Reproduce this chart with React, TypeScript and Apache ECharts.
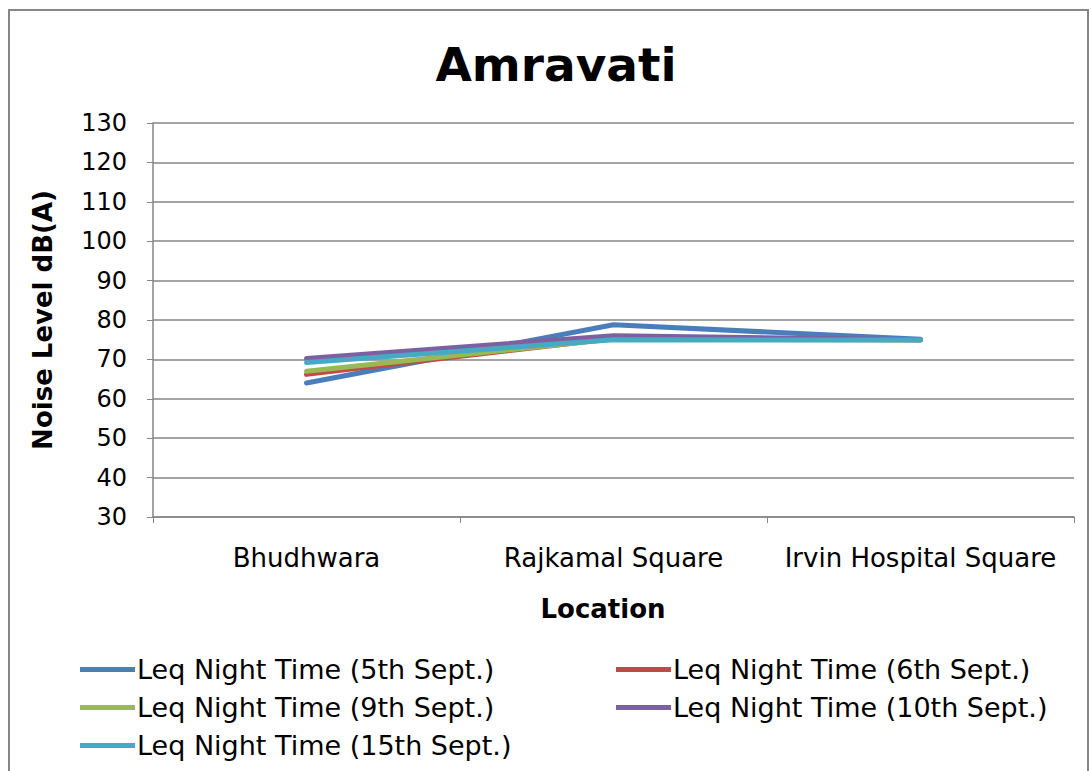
import React, { useEffect, useRef } from "react";
import * as echarts from "echarts";

const categories = ["Bhudhwara", "Rajkamal Square", "Irvin Hospital Square"];
const seriesNames = [
  "Leq Night Time (5th Sept.)",
  "Leq Night Time (6th Sept.)",
  "Leq Night Time (9th Sept.)",
  "Leq Night Time (10th Sept.)",
  "Leq Night Time (15th Sept.)",
];
const sept5 = [64.0, 78.8, 75.1];
const sept6 = [66.2, 75.3, 75.0];
const sept9 = [67.0, 75.2, 74.9];
const sept10 = [70.2, 76.0, 75.0];
const sept15 = [69.2, 75.0, 74.9];
const seriesValues = [sept5, sept6, sept9, sept10, sept15];
const colors = ["#4A7EBB", "#BE4B48", "#98B954", "#7D60A0", "#46AAC5"];
const yTicks = { min: 30, max: 130, interval: 10 };

const FONT = "DejaVu Sans";

export default function App() {
  const ref = useRef<HTMLDivElement>(null);
  useEffect(() => {
    document.body.style.margin = "0";
    const chart = echarts.init(ref.current!, null, { renderer: "svg" });
    const legendPos = [
      { left: 80, top: 656 },
      { left: 616, top: 656 },
      { left: 80, top: 694 },
      { left: 616, top: 694 },
      { left: 80, top: 732 },
    ];
    chart.setOption({
      animation: false,
      backgroundColor: "#ffffff",
      graphic: [
        {
          type: "rect",
          shape: { x: 9, y: 10, width: 1079, height: 780 },
          style: { fill: "none", stroke: "#868686", lineWidth: 2 },
          silent: true,
        },
        {
          type: "text",
          x: 556,
          y: 64,
          style: {
            text: "Amravati",
            fontFamily: FONT,
            fontSize: 47,
            fontWeight: "bold",
            fill: "#000",
            align: "center",
            verticalAlign: "middle",
          },
          silent: true,
        },
        {
          type: "text",
          x: 603,
          y: 609,
          style: {
            text: "Location",
            fontFamily: FONT,
            fontSize: 26,
            fontWeight: "bold",
            fill: "#000",
            align: "center",
            verticalAlign: "middle",
          },
          silent: true,
        },
      ],
      legend: seriesNames.map((n, i) => ({
        data: [n],
        left: legendPos[i].left,
        top: legendPos[i].top,
        icon: "rect",
        itemWidth: 55,
        itemHeight: 5,
        padding: 0,
        textStyle: { fontFamily: FONT, fontSize: 27, color: "#000", padding: [0, 0, 0, -3] },
      })),
      grid: { left: 153, right: 17, top: 123, bottom: 254 },
      xAxis: {
        type: "category",
        data: categories,
        boundaryGap: true,
        axisLine: { lineStyle: { color: "#868686", width: 1.5 } },
        axisTick: { show: true, length: 6, lineStyle: { color: "#868686" } },
        axisLabel: { fontFamily: FONT, fontSize: 26, color: "#000", margin: 28, interval: 0 },
      },
      yAxis: {
        type: "value",
        min: yTicks.min,
        max: yTicks.max,
        interval: yTicks.interval,
        name: "Noise Level dB(A)",
        nameLocation: "middle",
        nameGap: 97,
        nameTextStyle: { fontFamily: FONT, fontSize: 26, fontWeight: "bold", color: "#000" },
        axisLine: { show: true, lineStyle: { color: "#868686", width: 1.5 } },
        axisTick: { show: true, length: 6, lineStyle: { color: "#868686" } },
        axisLabel: { fontFamily: FONT, fontSize: 24, color: "#000", margin: 26 },
        splitLine: { lineStyle: { color: "#868686", width: 1.5 } },
      },
      series: seriesNames.map((n, i) => ({
        name: n,
        type: "line",
        data: seriesValues[i],
        color: colors[i],
        symbol: "none",
        lineStyle: { width: 5, color: colors[i], cap: "round" },
      })),
    });
    return () => chart.dispose();
  }, []);
  return <div ref={ref} style={{ width: 1091, height: 771 }} />;
}
